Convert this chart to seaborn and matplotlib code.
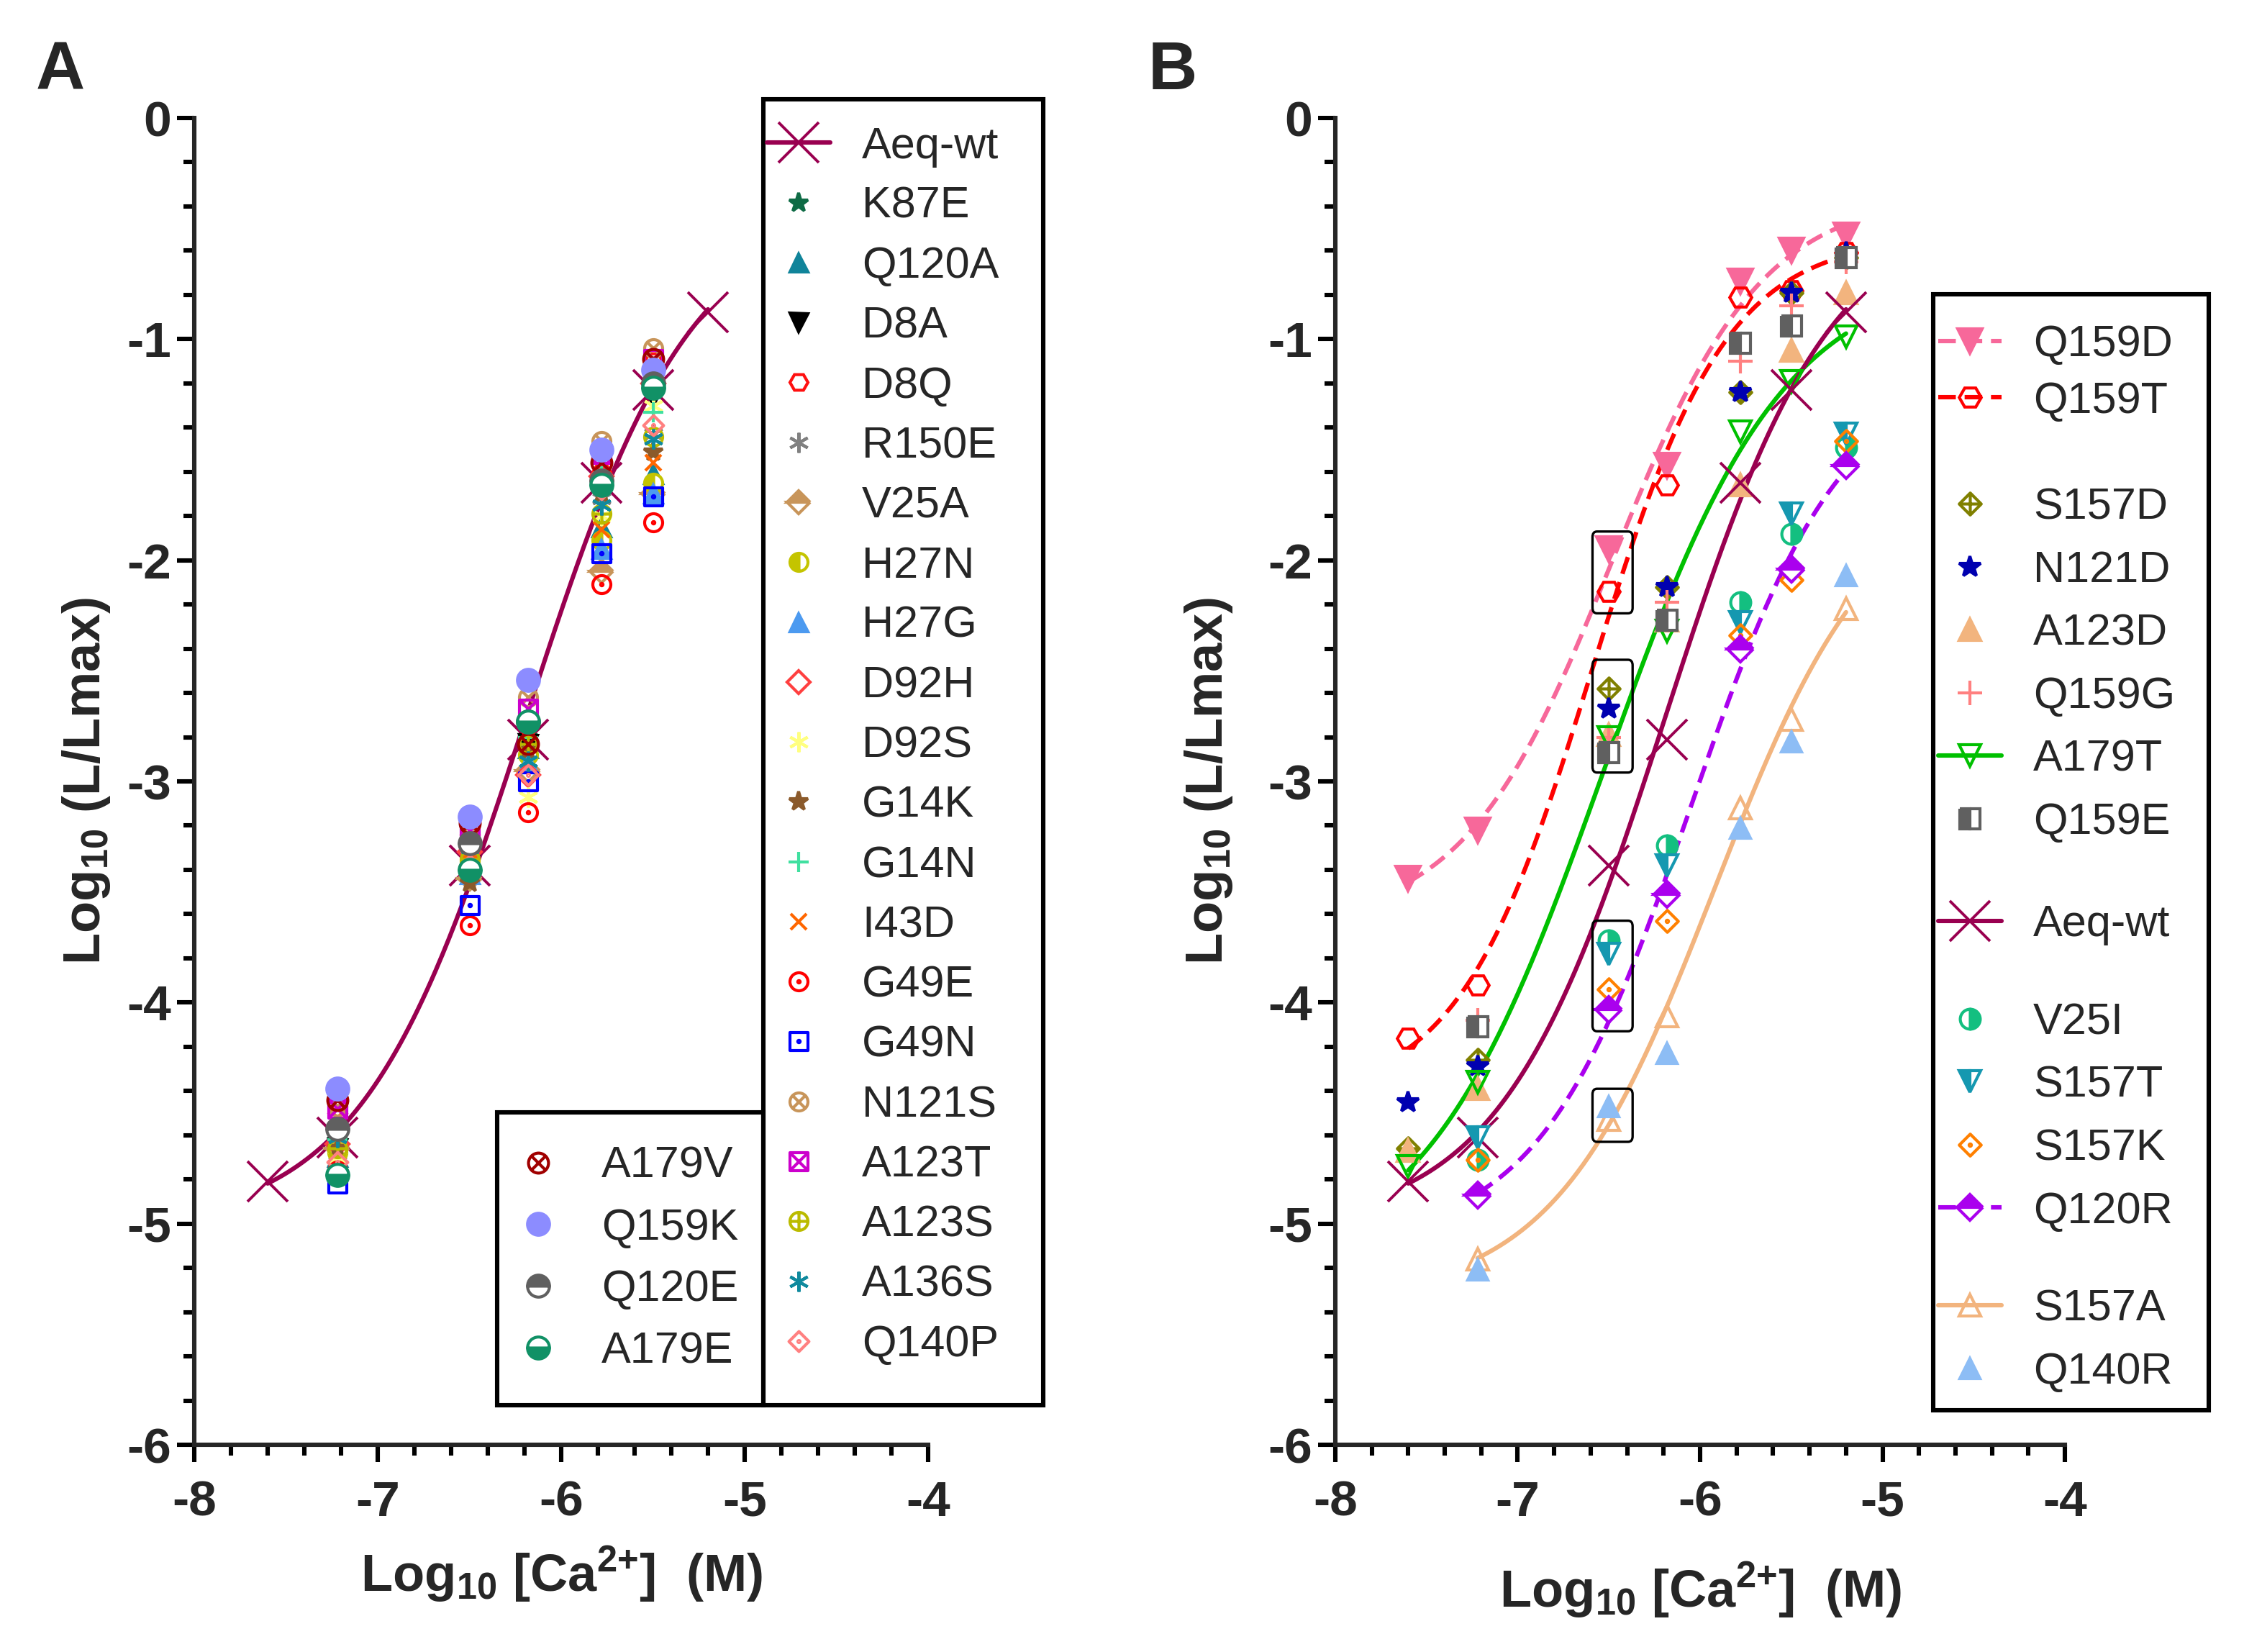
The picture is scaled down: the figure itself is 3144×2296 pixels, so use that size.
import numpy as np
import pandas as pd
import seaborn as sns
import matplotlib.pyplot as plt
from matplotlib.lines import Line2D
from matplotlib.patches import Rectangle, FancyBboxPatch
from matplotlib.path import Path
from matplotlib.ticker import MultipleLocator

sns.set_theme(style="ticks")
plt.rcParams["font.family"] = ["Liberation Sans", "DejaVu Sans"]
plt.rcParams["axes.unicode_minus"] = False
plt.rcParams["mathtext.default"] = "regular"

###############################################################################
### data (log10 [Ca2+] in M  vs  log10 L/Lmax)

ca_wt = [-7.6, -7.22, -6.5, -6.18, -5.78, -5.5, -5.2]
ca_a = [-7.22, -6.5, -6.18, -5.78, -5.5]
ca_b7 = [-7.6, -7.22, -6.5, -6.18, -5.78, -5.5, -5.2]
ca_b6 = [-7.22, -6.5, -6.18, -5.78, -5.5, -5.2]

wt = [-4.81, -4.61, -3.38, -2.81, -1.65, -1.23, -0.88]

# panel A
a_k87e = [-4.62, -3.38, -2.80, -1.64, -1.22]
a_q120a = [-4.70, -3.40, -2.85, -1.85, -1.61]
a_d8a = [-4.66, -3.37, -2.83, -1.70, -1.26]
a_d8q = [-4.50, -3.24, -2.75, -1.60, -1.10]
a_r150e = [-4.72, -3.34, -2.86, -1.72, -1.43]
a_v25a = [-4.66, -3.44, -2.95, -2.05, -1.70]
a_h27n = [-4.68, -3.36, -2.88, -1.91, -1.65]
a_h27g = [-4.76, -3.42, -2.92, -1.95, -1.70]
a_d92h = [-4.64, -3.32, -2.97, -1.62, -1.20]
a_d92s = [-4.70, -3.38, -3.07, -1.80, -1.30]
a_g14k = [-4.66, -3.46, -2.86, -1.70, -1.51]
a_g14n = [-4.62, -3.35, -2.80, -1.62, -1.33]
a_i43d = [-4.52, -3.32, -2.78, -1.86, -1.56]
a_g49e = [-4.76, -3.65, -3.14, -2.11, -1.83]
a_g49n = [-4.82, -3.56, -3.00, -1.97, -1.71]
a_n121s = [-4.47, -3.20, -2.62, -1.46, -1.04]
a_a123t = [-4.48, -3.22, -2.67, -1.52, -1.09]
a_a123s = [-4.66, -3.35, -2.83, -1.79, -1.44]
a_a136s = [-4.61, -3.30, -2.91, -1.75, -1.45]
a_q140p = [-4.72, -3.38, -2.97, -1.68, -1.39]
a_a179v = [-4.44, -3.19, -2.83, -1.56, -1.09]
a_q159k = [-4.39, -3.16, -2.54, -1.50, -1.14]
a_q120e = [-4.57, -3.28, -2.73, -1.64, -1.20]
a_a179e = [-4.78, -3.40, -2.73, -1.66, -1.22]

# panel B
b_q159d = [-3.44, -3.22, -1.95, -1.57, -0.74, -0.60, -0.53]
b_q159t = [-4.16, -3.92, -2.14, -1.66, -0.81, -0.78, -0.61]
b_s157d = [-4.66, -4.26, -2.58, -2.12, -1.24, -0.79, -0.63]
b_n121d = [-4.45, -4.29, -2.67, -2.12, -1.24, -0.79, -0.61]
b_a123d = [-4.67, -4.39, -2.79, -2.27, -1.66, -1.05, -0.79]
b_q159g = [-4.08, -2.80, -2.19, -1.10, -0.85, -0.65]
b_a179t = [-4.74, -4.36, -2.80, -2.32, -1.42, -1.19, -0.99]
b_q159e = [-4.11, -2.87, -2.27, -1.02, -0.94, -0.63]
b_v25i = [-4.71, -3.72, -3.29, -2.19, -1.88, -1.49]
b_s157t = [-4.61, -3.78, -3.38, -2.28, -1.79, -1.43]
b_s157k = [-4.71, -3.94, -3.63, -2.34, -2.09, -1.46]
b_q120r = [-4.87, -4.03, -3.51, -2.40, -2.04, -1.57]
b_s157a = [-5.16, -4.53, -4.06, -3.12, -2.72, -2.22]
b_q140r = [-5.21, -4.47, -4.23, -3.21, -2.82, -2.07]

###############################################################################
### marker shapes

def _poly(pts):
    return Path(pts + [pts[0]], [Path.MOVETO] + [Path.LINETO] * (len(pts) - 1) + [Path.CLOSEPOLY])

def _seg(p, q):
    return Path([p, q], [Path.MOVETO, Path.LINETO])

CIRC = Path.unit_circle()
SQ = _poly([(-1, -1), (1, -1), (1, 1), (-1, 1)])
DIA = _poly([(0, 1.25), (1.25, 0), (0, -1.25), (-1.25, 0)])
DOT = Path.circle((0, 0), 0.13)
d = 0.707
M_OTIMES = Path.make_compound_path(CIRC, _seg((-d, -d), (d, d)), _seg((-d, d), (d, -d)))
M_OPLUS = Path.make_compound_path(CIRC, _seg((-1, 0), (1, 0)), _seg((0, -1), (0, 1)))
M_ODOT = Path.make_compound_path(CIRC, DOT)
M_BOXTIMES = Path.make_compound_path(SQ, _seg((-1, -1), (1, 1)), _seg((-1, 1), (1, -1)))
M_BOXDOT = Path.make_compound_path(SQ, DOT)
M_DIADOT = Path.make_compound_path(DIA, DOT)
M_DIAPLUS = Path.make_compound_path(DIA, _seg((-1.25, 0), (1.25, 0)), _seg((0, -1.25), (0, 1.25)))
M_AST = (6, 2, 0)

# (label, x, y, marker, colour, size, fill)   fill: full / none / top / bottom / left / right
SERIES_A = [
    ("K87E", ca_a, a_k87e, "*", "#0E6B45", 10, "full"),
    ("Q120A", ca_a, a_q120a, "^", "#10849A", 9, "full"),
    ("D8A", ca_a, a_d8a, "v", "#000000", 9, "full"),
    ("D8Q", ca_a, a_d8q, "H", "#FF1010", 9, "none"),
    ("R150E", ca_a, a_r150e, M_AST, "#808080", 10, "none"),
    ("V25A", ca_a, a_v25a, "D", "#C8955A", 8, "top"),
    ("H27N", ca_a, a_h27n, "o", "#C4C400", 9, "left"),
    ("H27G", ca_a, a_h27g, "^", "#4C9AF0", 9, "full"),
    ("D92H", ca_a, a_d92h, "D", "#FF4040", 8, "none"),
    ("D92S", ca_a, a_d92s, M_AST, "#FFFF80", 10, "none"),
    ("G14K", ca_a, a_g14k, "*", "#8B5A2B", 10, "full"),
    ("G14N", ca_a, a_g14n, "+", "#40E0A0", 10, "none"),
    ("I43D", ca_a, a_i43d, "x", "#FF6600", 8, "none"),
    ("G49E", ca_a, a_g49e, M_ODOT, "#FF0000", 9, "none"),
    ("G49N", ca_a, a_g49n, M_BOXDOT, "#0000FF", 9, "none"),
    ("N121S", ca_a, a_n121s, M_OTIMES, "#C8955A", 9, "none"),
    ("A123T", ca_a, a_a123t, M_BOXTIMES, "#CC00CC", 9, "none"),
    ("A123S", ca_a, a_a123s, M_OPLUS, "#BBBB00", 9, "none"),
    ("A136S", ca_a, a_a136s, M_AST, "#108A9E", 10, "none"),
    ("Q140P", ca_a, a_q140p, M_DIADOT, "#FF8080", 10, "none"),
]
SERIES_A_INSET = [
    ("A179V", ca_a, a_a179v, M_OTIMES, "#A00000", 10, "none"),
    ("Q159K", ca_a, a_q159k, "o", "#8C8CFF", 11, "full"),
    ("Q120E", ca_a, a_q120e, "o", "#606060", 11, "top"),
    ("A179E", ca_a, a_a179e, "o", "#119166", 11, "bottom"),
]

WT_COLOR = "#990050"

# panel B: (label, x, y, marker, colour, size, fill, line style or None)
SERIES_B = [
    [("Q159D", ca_b7, b_q159d, "v", "#F7689A", 12, "full", "dash"),
     ("Q159T", ca_b7, b_q159t, "H", "#FF0000", 11, "none", "dash")],
    [("S157D", ca_b7, b_s157d, M_DIAPLUS, "#808000", 11, "none", None),
     ("N121D", ca_b7, b_n121d, "*", "#0000B0", 11, "full", None),
     ("A123D", ca_b7, b_a123d, "^", "#F2B47E", 11, "full", None),
     ("Q159G", ca_b6, b_q159g, "+", "#FF8080", 12, "none", None),
     ("A179T", ca_b7, b_a179t, "v", "#00C000", 11, "none", "solid"),
     ("Q159E", ca_b6, b_q159e, "s", "#606060", 10, "left", None)],
    [("Aeq-wt", ca_wt, wt, "x", WT_COLOR, 20, "none", "solid")],
    [("V25I", ca_b6, b_v25i, "o", "#13BF80", 10, "right", None),
     ("S157T", ca_b6, b_s157t, "v", "#1598B0", 11, "left", None),
     ("S157K", ca_b6, b_s157k, M_DIADOT, "#FF8000", 11, "none", None),
     ("Q120R", ca_b6, b_q120r, "D", "#AA00EE", 9, "top", "dash")],
    [("S157A", ca_b6, b_s157a, "^", "#F2B47E", 11, "none", "solid"),
     ("Q140R", ca_b6, b_q140r, "^", "#8DBDF5", 10, "full", None)],
]

LINE_W = 2.2
DASH = (0, (4, 2))

###############################################################################
### helpers

def marker_kws(marker, color, ms, fill, mew=1.5):
    kws = dict(marker=marker, markersize=ms, markeredgecolor=color, markeredgewidth=mew, color=color)
    if fill == "full":
        kws.update(markerfacecolor=color, fillstyle="full")
    elif fill == "none":
        kws.update(markerfacecolor="none", fillstyle="full")
    else:
        kws.update(markerfacecolor=color, markerfacecoloralt="white", fillstyle=fill)
    return kws


def draw_points(ax, x, y, marker, color, ms, fill, mew=1.5, z=3):
    sns.lineplot(x=x, y=y, ax=ax, linestyle="", errorbar=None, zorder=z,
                 **marker_kws(marker, color, ms, fill, mew))


def sigmoid_fit(x, y):
    # four parameter logistic fit: grid over midpoint / slope, least squares for bottom / top
    x = np.asarray(x, float)
    y = np.asarray(y, float)
    x0 = np.arange(-8.5, -3.5, 0.01)[:, None, None]
    h = np.arange(0.3, 4.0, 0.02)[None, :, None]
    f = 1.0 / (1.0 + 10.0 ** (h * (x0 - x)))
    fm = f.mean(-1, keepdims=True)
    ym = y.mean()
    slope = ((f - fm) * (y - ym)).sum(-1, keepdims=True) / ((f - fm) ** 2).sum(-1, keepdims=True)
    sse = ((y - ym - slope * (f - fm)) ** 2).sum(-1)
    i, j = np.unravel_index(np.argmin(sse), sse.shape)
    bx0, bh = x0[i, 0, 0], h[0, j, 0]
    span = slope[i, j, 0]
    base = ym - span * fm[i, j, 0]
    xs = np.linspace(x.min(), x.max(), 200)
    return xs, base + span / (1.0 + 10.0 ** (bh * (bx0 - xs)))


def draw_fit(ax, x, y, color, style):
    ls = DASH if style == "dash" else "-"
    xs, ys = sigmoid_fit(x, y)
    sns.lineplot(x=xs, y=ys, ax=ax, color=color, lw=LINE_W, linestyle=ls, errorbar=None,
                 zorder=2)


def make_handle(marker, color, ms, fill, style=None, mew=1.5):
    ls = "none" if style is None else (DASH if style == "dash" else "-")
    return Line2D([], [], linestyle=ls, lw=LINE_W, **marker_kws(marker, color, ms, fill, mew))


def style_axis(ax):
    ax.set_xlim(-8, -4)
    ax.set_ylim(-6, 0)
    ax.set_xticks(range(-8, -3))
    ax.set_xticklabels([str(v) for v in range(-8, -3)], fontweight="bold")
    ax.set_yticks(range(0, -7, -1))
    ax.set_yticklabels([str(v) for v in range(0, -7, -1)], fontweight="bold")
    ax.xaxis.set_minor_locator(MultipleLocator(0.2))
    ax.yaxis.set_minor_locator(MultipleLocator(0.2))
    sns.despine(ax=ax)
    for s in ["left", "bottom"]:
        ax.spines[s].set_linewidth(2.2)
    ax.tick_params(which="major", length=8.6, width=2.2, labelsize=25, color="black")
    ax.tick_params(which="minor", length=5.4, width=2.2, color="black")
    ax.tick_params(axis="x", which="major", pad=9)
    ax.tick_params(axis="y", which="major", pad=3)
    ax.set_xlabel(r"Log$_{10}$ [Ca$^{2{+}}$]  (M)", fontsize=26, fontweight="bold")
    ax.set_ylabel(r"Log$_{10}$ (L/Lmax)", fontsize=26, fontweight="bold")


def frame(fig, x0, y0, x1, y1):
    fig.add_artist(Rectangle((x0, y0), x1 - x0, y1 - y0, transform=fig.transFigure,
                             fill=False, edgecolor="black", lw=2.2, zorder=5))


def place_legend(fig, handles, labels, x, y, spacing):
    fig.legend(handles, labels, loc="center left", bbox_to_anchor=(x, y), frameon=False,
               fontsize=22, handlelength=1.44, handletextpad=0.72, labelspacing=spacing,
               borderpad=0, borderaxespad=0)

###############################################################################
### figure

W, H = 3144, 2296
fig = plt.figure(figsize=(W / 200, H / 200))

def fx(px):
    return px / W

def fy(px):
    return 1 - px / H

axA = fig.add_axes([fx(270), fy(2008), fx(1290) - fx(270), fy(164) - fy(2008)])
axB = fig.add_axes([fx(1856), fy(2008), fx(2870) - fx(1856), fy(164) - fy(2008)])

# --- panel A
draw_fit(axA, ca_wt, wt, WT_COLOR, "solid")
draw_points(axA, ca_wt, wt, "x", WT_COLOR, 20, "none", mew=1.4, z=3)
for lab, x, y, m, c, ms, fill in SERIES_A + SERIES_A_INSET:
    draw_points(axA, x, y, m, c, ms, fill, z=4)
style_axis(axA)
axA.xaxis.set_label_coords(0.5, -0.075)
axA.yaxis.set_label_coords(-0.112, 0.5)

# --- panel B
for group in SERIES_B:
    for lab, x, y, m, c, ms, fill, st in group:
        if st is not None:
            draw_fit(axB, x, y, c, st)
for group in SERIES_B:
    for lab, x, y, m, c, ms, fill, st in group:
        mew = 1.4 if lab == "Aeq-wt" else 1.5
        draw_points(axB, x, y, m, c, ms, fill, mew=mew, z=4)
style_axis(axB)
axB.xaxis.set_label_coords(0.5, -0.087)
axB.yaxis.set_label_coords(-0.138, 0.5)

# highlight boxes at 10^-6.5 M
for y0, y1 in [(-2.24, -1.87), (-2.96, -2.45), (-4.13, -3.63), (-4.63, -4.39)]:
    axB.add_patch(FancyBboxPatch((-6.59, y0), 0.22, y1 - y0, transform=axB.transData,
                                 boxstyle="round,pad=0,rounding_size=0.025",
                                 fill=False, ec="black", lw=1.2, zorder=5, clip_on=False))

# --- legends panel A
hA = [make_handle("x", WT_COLOR, 20, "none", "solid", mew=1.4)]
lA = ["Aeq-wt"]
for lab, x, y, m, c, ms, fill in SERIES_A:
    hA.append(make_handle(m, c, ms, fill))
    lA.append(lab)
place_legend(fig, hA, lA, fx(1066), fy(1037), 0.43)
frame(fig, fx(1061), fy(1953), fx(1450), fy(138))

hI = [make_handle(m, c, ms, fill) for lab, x, y, m, c, ms, fill in SERIES_A_INSET]
lI = [s[0] for s in SERIES_A_INSET]
place_legend(fig, hI, lI, fx(704), fy(1750), 0.47)
frame(fig, fx(691), fy(1953), fx(1061), fy(1546))

# --- legend panel B (groups separated by gaps)
group_centres = [519, 925, 1286, 1553, 1864]
group_spacing = [0.35, 0.5, 0.5, 0.5, 0.5]
for group, yc, sp in zip(SERIES_B, group_centres, group_spacing):
    hs = [make_handle(m, c, ms, fill, st, mew=1.4 if lab == "Aeq-wt" else 1.5)
          for lab, x, y, m, c, ms, fill, st in group]
    ls = [g[0] for g in group]
    place_legend(fig, hs, ls, fx(2694), fy(yc), sp)
frame(fig, fx(2687), fy(1960), fx(3070), fy(409))

# panel letters
fig.text(fx(84), fy(100), "A", fontsize=34, fontweight="bold", ha="center", va="center")
fig.text(fx(1630), fy(100), "B", fontsize=34, fontweight="bold", ha="center", va="center")

fig.savefig("out.png", dpi=200)
